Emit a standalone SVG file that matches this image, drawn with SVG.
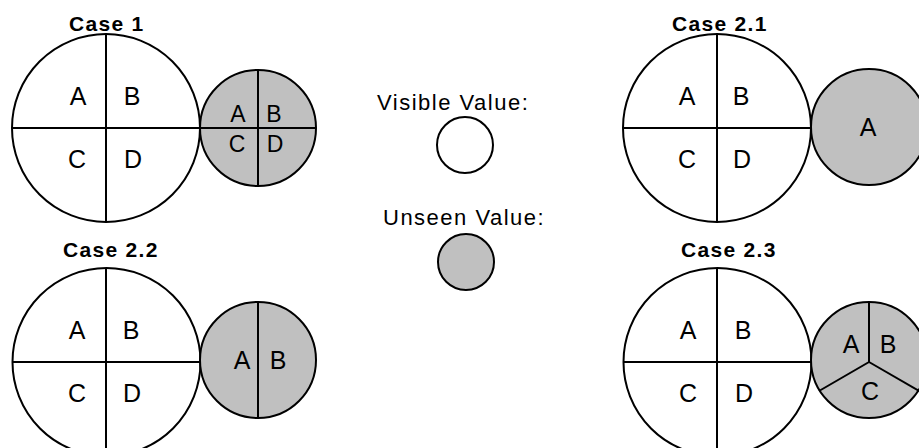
<svg xmlns="http://www.w3.org/2000/svg" width="919" height="448" viewBox="0 0 919 448">
  <style>
    .bg { fill: #ffffff; }
    .seen { fill: #ffffff; stroke: #000000; stroke-width: 2; }
    .unseen { fill: #c0c0c0; stroke: #000000; stroke-width: 2; }
    .div { stroke: #000000; stroke-width: 2; fill: none; }
    .title { font-family: "Liberation Sans", Arial, sans-serif; font-weight: bold; font-size: 21px; letter-spacing: 1.3px; fill: #000000; }
    .legend { font-family: "Liberation Sans", Arial, sans-serif; font-size: 22px; letter-spacing: 1.5px; fill: #000000; }
    .q { font-family: "Liberation Sans", Arial, sans-serif; font-size: 25px; text-anchor: middle; fill: #000000; }
    .qs { font-family: "Liberation Sans", Arial, sans-serif; font-size: 23px; text-anchor: middle; fill: #000000; }
  </style>
  <rect class="bg" x="0" y="0" width="919" height="448"/>

  <!-- Case 1: four visible quadrants, four-part unseen value -->
  <g id="case1">
    <text class="title" x="69" y="31">Case 1</text>
    <circle class="seen" cx="106" cy="128" r="94"/>
    <line class="div" x1="106" y1="34" x2="106" y2="222"/>
    <line class="div" x1="12" y1="128" x2="200" y2="128"/>
    <text class="q" x="78" y="105">A</text>
    <text class="q" x="132" y="105">B</text>
    <text class="q" x="77" y="168">C</text>
    <text class="q" x="133" y="168">D</text>
    <circle class="unseen" cx="258" cy="128" r="58"/>
    <line class="div" x1="258" y1="70" x2="258" y2="186"/>
    <line class="div" x1="200" y1="128" x2="316" y2="128"/>
    <text class="qs" x="238" y="122">A</text>
    <text class="qs" x="274" y="122">B</text>
    <text class="qs" x="237" y="152">C</text>
    <text class="qs" x="275" y="152">D</text>
  </g>

  <!-- Case 2.1: unseen value holds one part -->
  <g id="case2_1">
    <text class="title" x="672" y="31">Case 2.1</text>
    <circle class="seen" cx="717" cy="128" r="94"/>
    <line class="div" x1="717" y1="34" x2="717" y2="222"/>
    <line class="div" x1="623" y1="128" x2="811" y2="128"/>
    <text class="q" x="687" y="105">A</text>
    <text class="q" x="741" y="105">B</text>
    <text class="q" x="687" y="168">C</text>
    <text class="q" x="742" y="168">D</text>
    <circle class="unseen" cx="869" cy="127" r="58"/>
    <text class="q" x="868" y="136">A</text>
  </g>

  <!-- Legend -->
  <g id="legend-visible">
    <text class="legend" x="377" y="110">Visible Value:</text>
    <circle class="seen" cx="465" cy="145" r="28"/>
  </g>
  <g id="legend-unseen">
    <text class="legend" x="383" y="225">Unseen Value:</text>
    <circle class="unseen" cx="466" cy="262" r="28"/>
  </g>

  <!-- Case 2.2: unseen value split in two -->
  <g id="case2_2">
    <text class="title" x="63" y="257">Case 2.2</text>
    <circle class="seen" cx="106.5" cy="362" r="94"/>
    <line class="div" x1="106" y1="268" x2="106" y2="456"/>
    <line class="div" x1="12.5" y1="362" x2="200" y2="362"/>
    <text class="q" x="77" y="339">A</text>
    <text class="q" x="131" y="339">B</text>
    <text class="q" x="77" y="402">C</text>
    <text class="q" x="132" y="402">D</text>
    <circle class="unseen" cx="258" cy="360" r="58"/>
    <line class="div" x1="258" y1="302" x2="258" y2="418"/>
    <text class="q" x="242" y="369">A</text>
    <text class="q" x="278" y="369">B</text>
  </g>

  <!-- Case 2.3: unseen value split in three -->
  <g id="case2_3">
    <text class="title" x="681" y="257">Case 2.3</text>
    <circle class="seen" cx="717.5" cy="362" r="94"/>
    <line class="div" x1="717" y1="268" x2="717" y2="456"/>
    <line class="div" x1="623.5" y1="362" x2="811.5" y2="362"/>
    <text class="q" x="688" y="339">A</text>
    <text class="q" x="743" y="339">B</text>
    <text class="q" x="688" y="402">C</text>
    <text class="q" x="744" y="402">D</text>
    <circle class="unseen" cx="869" cy="360" r="58"/>
    <polyline class="div" points="869,302 869,362 819,391"/>
    <line class="div" x1="869" y1="362" x2="919" y2="391"/>
    <text class="q" x="851" y="353">A</text>
    <text class="q" x="888" y="353">B</text>
    <text class="q" x="870" y="400">C</text>
  </g>
</svg>
